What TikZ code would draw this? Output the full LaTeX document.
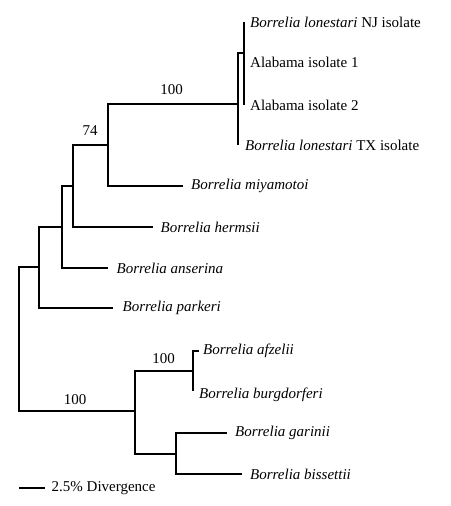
\documentclass[tikz,border=0pt]{standalone}
\usepackage{fontspec}
\setmainfont{Liberation Serif}
\usetikzlibrary{positioning}

\begin{document}
\begin{tikzpicture}[
	x=1pt, y=-1pt,
	every node/.style={font=\fontsize{15}{18}\selectfont},
	branch/.style={line width=2pt, black},
	taxon/.style={anchor=west, inner sep=0pt},
	support/.style={inner sep=0pt}
	]
	\useasboundingbox (0,0) rectangle (450,506);

	% =====================================================
	% INTERNAL NODES
	% =====================================================
	\coordinate (Root) at (19,339);
	\coordinate (N1) at (39,267);
	\coordinate (N2) at (62,227);
	\coordinate (N3) at (73,186);
	\coordinate (N4) at (108,145);
	\coordinate (N5) at (238,104);
	\coordinate (N6) at (244,53);
	\coordinate (N7) at (135,411);
	\coordinate (N8) at (193,371);
	\coordinate (N9) at (176,454);

	% =====================================================
	% LEAF TIPS
	% =====================================================
	\coordinate (NJ) at (244,22);
	\coordinate (AlaOne) at (244,62);
	\coordinate (AlaTwo) at (244,105);
	\coordinate (TX) at (238,145);
	\coordinate (Miy) at (183,186);
	\coordinate (Her) at (153,227);
	\coordinate (Ans) at (108,268);
	\coordinate (Par) at (113,308);
	\coordinate (Afz) at (199,351);
	\coordinate (Bur) at (193,391);
	\coordinate (Gar) at (227,433);
	\coordinate (Bis) at (242,474);

	% =====================================================
	% BRANCHES
	% =====================================================
	\draw[branch] (Root) |- (N1);
	\draw[branch] (Root) |- (N7);
	\draw[branch] (N1) |- (N2);
	\draw[branch] (N1) |- (Par);
	\draw[branch] (N2) |- (N3);
	\draw[branch] (N2) |- (Ans);
	\draw[branch] (N3) |- (N4);
	\draw[branch] (N3) |- (Her);
	\draw[branch] (N4) |- (N5);
	\draw[branch] (N4) |- (Miy);
	\draw[branch] (N5) |- (N6);
	\draw[branch] (N5) |- (TX);
	\draw[branch] (N6) |- (NJ);
	\draw[branch] (N6) |- (AlaOne);
	\draw[branch] (N6) |- (AlaTwo);
	\draw[branch] (N7) |- (N8);
	\draw[branch] (N7) |- (N9);
	\draw[branch] (N8) |- (Afz);
	\draw[branch] (N8) |- (Bur);
	\draw[branch] (N9) |- (Gar);
	\draw[branch] (N9) |- (Bis);

	% =====================================================
	% TAXA
	% =====================================================
	\node[taxon, right=6pt of NJ] (LabNJ) {\textit{Borrelia lonestari} NJ isolate};
	\node[taxon, right=6pt of AlaOne] (LabAlaOne) {Alabama isolate 1};
	\node[taxon, right=6pt of AlaTwo] (LabAlaTwo) {Alabama isolate 2};
	\node[taxon, right=7pt of TX] (LabTX) {\textit{Borrelia lonestari} TX isolate};
	\node[taxon, right=8pt of Miy] (LabMiy) {\textit{Borrelia miyamotoi}};
	\node[taxon, right=7.5pt of Her] (LabHer) {\textit{Borrelia hermsii}};
	\node[taxon, right=8.5pt of Ans] (LabAns) {\textit{Borrelia anserina}};
	\node[taxon, right=9.5pt of Par] (LabPar) {\textit{Borrelia parkeri}};
	\node[taxon, right=4pt of Afz] (LabAfz) {\textit{Borrelia afzelii}};
	\node[taxon, right=6pt of Bur, yshift=-4pt] (LabBur) {\textit{Borrelia burgdorferi}};
	\node[taxon, right=8pt of Gar] (LabGar) {\textit{Borrelia garinii}};
	\node[taxon, right=8pt of Bis] (LabBis) {\textit{Borrelia bissettii}};

	% =====================================================
	% BOOTSTRAP VALUES
	% =====================================================
	\node[support] (BootA) at (171.5,90) {100};
	\node[support] (BootB) at (90,131) {74};
	\node[support] (BootC) at (75,400) {100};
	\node[support] (BootD) at (163.5,359) {100};

	% =====================================================
	% SCALE BAR
	% =====================================================
	\coordinate (BarL) at (19,488);
	\coordinate (BarR) at (45,488);
	\draw[branch] (BarL) -- (BarR);
	\node[taxon, right=6.5pt of BarR] (BarLab) {2.5\% Divergence};

\end{tikzpicture}
\end{document}
